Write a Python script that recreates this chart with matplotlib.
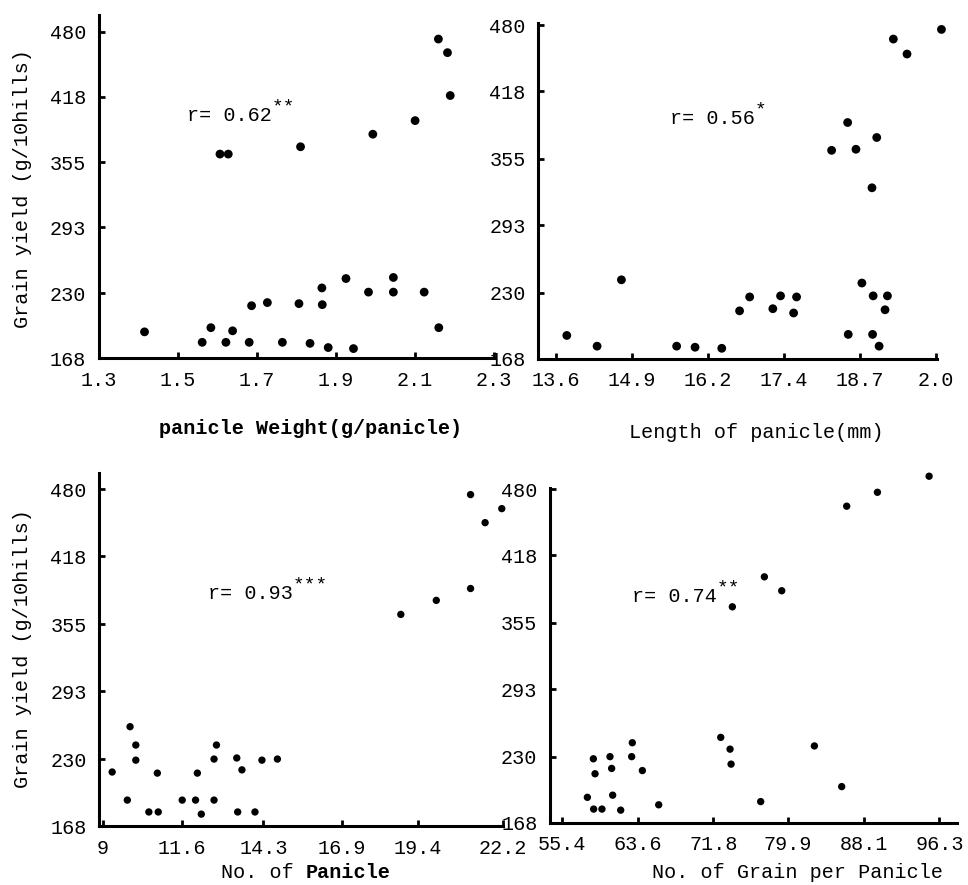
import matplotlib
matplotlib.use("Agg")
import matplotlib.pyplot as plt

plt.rcParams['font.family'] = ['Liberation Mono', 'DejaVu Sans Mono']

# y axis: grain yield (g/10hills), same ticks on all panels
yield_ticks = [168, 230, 293, 355, 418, 480]
yield_labels = ["168", "230", "293", "355", "418", "480"]

# panel 1 : panicle weight (g/panicle)
weight_ticks = [1.3, 1.5, 1.7, 1.9, 2.1, 2.3]
weight_labels = ["1.3", "1.5", "1.7", "1.9", "2.1", "2.3"]
weight_x = [1.416, 1.562, 1.584, 1.622, 1.639, 1.681, 1.687, 1.727, 1.765, 1.807,
            1.835, 1.865, 1.866, 1.881, 1.926, 1.945, 1.983, 2.046, 2.046, 2.124,
            2.161, 1.607, 1.628, 1.811, 1.994, 2.101, 2.160, 2.183, 2.190]
weight_y = [193, 183, 197, 183, 194, 183, 218, 221, 183, 220,
            182, 235, 219, 178, 244, 177, 231, 245, 231, 231,
            197, 363, 363, 370, 382, 395, 473, 460, 419]

# panel 2 : length of panicle (mm)
length_ticks = [13.6, 14.88, 16.16, 17.44, 18.72, 20.0]
length_labels = ["13.6", "14.9", "16.2", "17.4", "18.7", "2.0"]
length_x = [13.78, 14.29, 14.70, 15.63, 15.94, 16.39, 16.69, 16.86, 17.25, 17.38,
            17.60, 17.65, 18.24, 18.51, 18.65, 19.00, 18.92, 18.52, 18.75, 18.94,
            18.93, 19.04, 19.18, 19.14, 19.28, 19.51, 20.09]
length_y = [190, 180, 242, 180, 179, 178, 213, 226, 215, 227,
            211, 226, 363, 389, 364, 375, 328, 191, 239, 227,
            191, 180, 227, 214, 467, 453, 476]

# panel 3 : number of panicle
panicle_ticks = [9, 11.6, 14.3, 16.9, 19.4, 22.2]
panicle_labels = ["9", "11.6", "14.3", "16.9", "19.4", "22.2"]
panicle_x = [9.31, 9.81, 9.90, 10.09, 10.09, 10.52, 10.83, 10.80, 11.62, 12.06,
             12.12, 12.25, 12.67, 12.67, 12.75, 13.42, 13.45, 13.59, 14.02, 14.25,
             14.76, 18.83, 20.00, 21.13, 21.13, 21.61, 22.16]
panicle_y = [218, 192, 260, 243, 229, 181, 181, 217, 192, 192,
             217, 179, 192, 230, 243, 231, 181, 220, 181, 229,
             230, 364, 377, 388, 475, 449, 462]

# panel 4 : number of grain per panicle
grain_ticks = [55.4, 63.6, 71.8, 79.9, 88.1, 96.3]
grain_labels = ["55.4", "63.6", "71.8", "79.9", "88.1", "96.3"]
grain_x = [58.15, 58.80, 58.98, 58.83, 59.73, 60.60, 60.78, 60.89, 61.76, 63.02,
           62.95, 64.11, 65.88, 72.60, 73.61, 73.72, 73.86, 76.93, 77.33, 79.21,
           82.75, 85.71, 86.25, 89.58, 95.18]
grain_y = [192, 228, 214, 181, 181, 230, 219, 194, 180, 243,
           230, 217, 185, 248, 237, 223, 370, 188, 398, 385,
           240, 202, 464, 477, 492]

W, H = 968, 885
fig = plt.figure(figsize=(W / 100, H / 100), dpi=100)


def box(left, top, right, bottom):
    return [left / W, 1 - bottom / H, (right - left) / W, (bottom - top) / H]


def panel(rect, xs, ys, xticks, xlabels, xlim, ylim, size):
    ax = fig.add_axes(box(*rect))
    ax.scatter(xs, ys, s=size, color='black', edgecolors='none', clip_on=False, zorder=3)
    ax.set_xlim(*xlim)
    ax.set_ylim(*ylim)
    ax.set_xticks(xticks)
    ax.set_xticklabels(xlabels)
    ax.set_yticks(yield_ticks)
    ax.set_yticklabels(yield_labels)
    for side in ['top', 'right']:
        ax.spines[side].set_visible(False)
    for side in ['left', 'bottom']:
        ax.spines[side].set_linewidth(2.2)
        ax.spines[side].set_color('black')
    ax.tick_params(direction='in', length=4, width=2, labelsize=14.5, pad=9)
    ax.set_facecolor('none')
    return ax


def r_text(ax, x, y, value, stars):
    t = ax.text(x, y, "r= " + value, fontsize=14.5, va='center', ha='left')
    ax.annotate(stars, xy=(1.0, 0.5), xycoords=t, fontsize=14,
                ha='left', va='bottom')


ax1 = panel((98.7, 15, 493.7, 358), weight_x, weight_y, weight_ticks, weight_labels,
            (1.3, 2.3), (168, 496), 40)
r_text(ax1, 1.523, 400, "0.62", "**")

ax2 = panel((538.3, 23, 936.7, 359), length_x, length_y, length_ticks, length_labels,
            (13.30, 20.01), (168, 482), 40)
r_text(ax2, 15.51, 393, "0.56", "*")

ax3 = panel((99.3, 473, 503, 826), panicle_x, panicle_y, panicle_ticks, panicle_labels,
            (8.886, 22.2), (168, 495), 28)
r_text(ax3, 12.48, 383, "0.93", "***")

ax4 = panel((550, 488, 956.7, 823), grain_x, grain_y, grain_ticks, grain_labels,
            (54.1, 98.17), (168, 481), 28)
r_text(ax4, 62.95, 380, "0.74", "**")


def ftext(x, y, s, **kw):
    fig.text(x / W, 1 - y / H, s, ha='center', va='center', fontsize=14.5, **kw)


ftext(311, 428, "panicle Weight(g/panicle)", fontweight='bold')
ftext(756, 432, "Length of panicle(mm)")
ftext(798, 872, "No. of Grain per Panicle")
ftext(23, 189, "Grain yield (g/10hills)", rotation=90)
ftext(23, 649, "Grain yield (g/10hills)", rotation=90)

# "No. of Panicle" with the last word in bold
fig.text(317 / W - 0.012, 1 - 873 / H, "No. of ", ha='right', va='center', fontsize=14.5)
fig.text(317 / W - 0.012, 1 - 873 / H, "Panicle", ha='left', va='center',
         fontsize=14.5, fontweight='bold')

fig.savefig("out.png", dpi=100, facecolor='white')
